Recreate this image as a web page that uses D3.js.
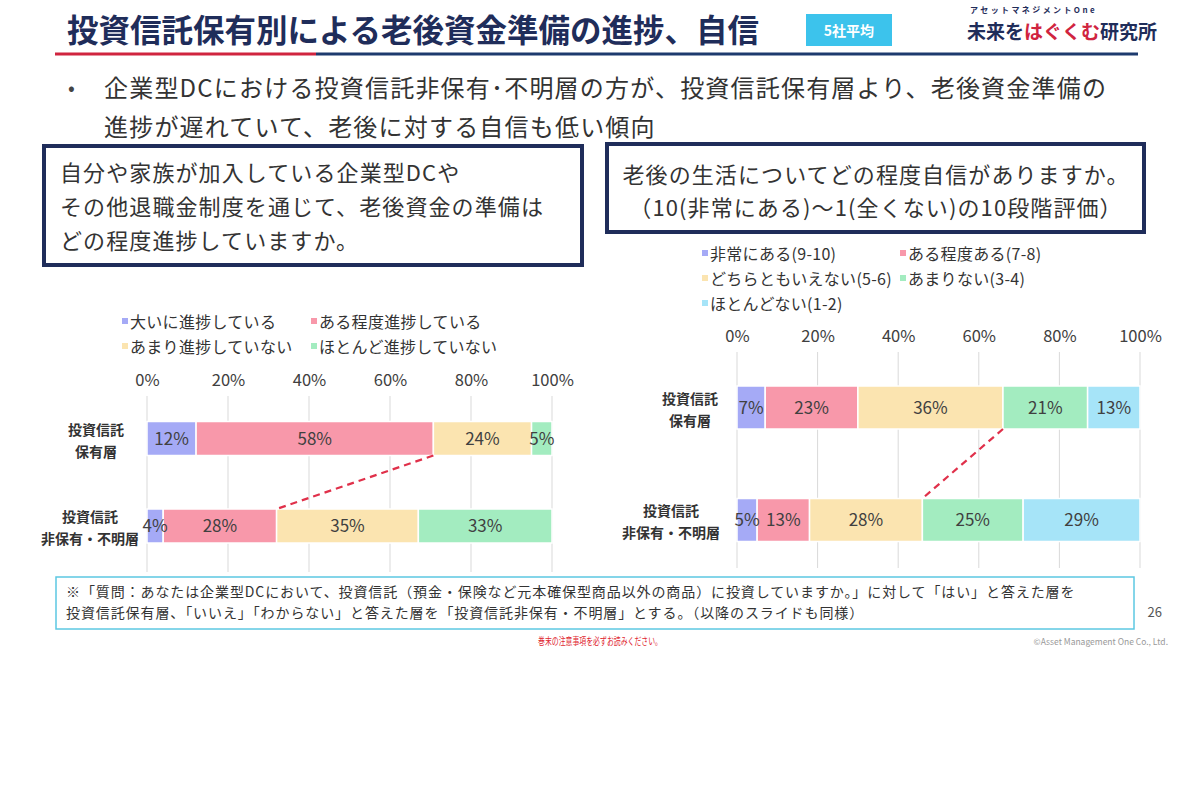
<!DOCTYPE html>
<html lang="ja">
<head>
  <meta charset="utf-8">
  <title>投資信託保有別による老後資金準備の進捗、自信</title>
  <style>
    body { margin:0; background:#fff; }
    svg  { display:block; }
    text { font-family:"Noto Sans CJK JP","Noto Sans",sans-serif; }
  </style>
</head>
<body>
<script src="https://d3js.org/d3.v7.min.js"></script>
<script>

// -- data --
const groups = ["投資信託保有層", "投資信託非保有・不明層"];
const groupLines = [["投資信託", "保有層"], ["投資信託", "非保有・不明層"]];

const progressKeys = ["大いに進捗している", "ある程度進捗している", "あまり進捗していない", "ほとんど進捗していない"];
const progressHolder    = [12, 58, 24, 5];
const progressNonHolder = [4, 28, 35, 33];

const confKeys = ["非常にある(9-10)", "ある程度ある(7-8)", "どちらともいえない(5-6)", "あまりない(3-4)", "ほとんどない(1-2)"];
const confHolder    = [7, 23, 36, 21, 13];
const confNonHolder = [5, 13, 28, 25, 29];

const ticks = [0, 0.2, 0.4, 0.6, 0.8, 1];
const colors = ["#a5aaf6", "#f898aa", "#fbe4b0", "#a3ecc0", "#a6e4f8"];
const navy = "#1f2d5a";

const width = 1200, height = 800;
const svg = d3.select("body").append("svg")
  .attr("width", width)
  .attr("height", height);

// -- header --
svg.append("text")
  .attr("x", 67).attr("y", 42)
  .attr("fill", navy)
  .style("font-size", "31.5px").style("font-weight", "bold")
  .text("投資信託保有別による老後資金準備の進捗、自信");

svg.append("line").attr("x1", 55).attr("x2", 316).attr("y1", 54).attr("y2", 54)
  .attr("stroke", "#d0243f").attr("stroke-width", 3);
svg.append("line").attr("x1", 316).attr("x2", 1138).attr("y1", 54).attr("y2", 54)
  .attr("stroke", "#1d3a6e").attr("stroke-width", 3);

svg.append("rect").attr("x", 806).attr("y", 14).attr("width", 86).attr("height", 32)
  .attr("fill", "#3cc3ec");
svg.append("text").attr("x", 849).attr("y", 36).attr("text-anchor", "middle")
  .attr("fill", "#fff").style("font-size", "14px").style("font-weight", "bold")
  .text("5社平均");

svg.append("text").attr("x", 970).attr("y", 13)
  .attr("fill", navy).style("font-size", "8px").style("font-weight", "bold")
  .style("letter-spacing", "2.4px")
  .text("アセットマネジメントOne");
const logo = svg.append("text").attr("x", 967).attr("y", 39)
  .style("font-size", "19px").style("font-weight", "bold");
logo.append("tspan").attr("fill", navy).text("未来を");
logo.append("tspan").attr("fill", "#d0243f").text("はぐくむ");
logo.append("tspan").attr("fill", navy).text("研究所");

// bullet
svg.append("text").attr("x", 68).attr("y", 95).attr("fill", "#444")
  .style("font-size", "20px").text("•");
svg.append("text").attr("x", 104).attr("y", 97).attr("fill", "#333")
  .style("font-size", "24px").style("letter-spacing", "1.2px")
  .text("企業型DCにおける投資信託非保有･不明層の方が、投資信託保有層より、老後資金準備の");
svg.append("text").attr("x", 104).attr("y", 136).attr("fill", "#333")
  .style("font-size", "24px").style("letter-spacing", "1.2px")
  .text("進捗が遅れていて、老後に対する自信も低い傾向");

// question boxes
function questionBox(x, y, w, h, lines, anchor, tx, lineY) {
  svg.append("rect").attr("x", x).attr("y", y).attr("width", w).attr("height", h)
    .attr("fill", "#fff").attr("stroke", navy).attr("stroke-width", 4);
  svg.append("g").selectAll("text")
    .data(lines)
    .join("text")
      .attr("x", tx)
      .attr("y", (d, i) => lineY[i])
      .attr("text-anchor", anchor)
      .attr("fill", "#333")
      .style("font-size", "22px")
      .style("letter-spacing", "1.1px")
      .text(d => d);
}
questionBox(44, 146, 538, 119,
  ["自分や家族が加入している企業型DCや", "その他退職金制度を通じて、老後資金の準備は", "どの程度進捗していますか。"],
  "start", 60, [181, 215, 249]);
questionBox(607, 144, 537, 88,
  ["老後の生活についてどの程度自信がありますか。", "（10(非常にある)～1(全くない)の10段階評価）"],
  "middle", 876, [183, 216]);

// -- stacked bar chart --
function drawChart(cfg) {
  const g = svg.append("g");
  const x = d3.scaleLinear().domain([0, 1]).range([cfg.x0, cfg.x1]);
  const y = d3.scalePoint().domain(groups).range(cfg.rowY);

  const table = groups.map((grp, i) => {
    const row = { group: grp };
    cfg.keys.forEach((k, j) => row[k] = cfg.values[i][j]);
    return row;
  });
  const series = d3.stack().keys(cfg.keys).offset(d3.stackOffsetExpand)(table);

  // legend
  const legend = g.append("g");
  cfg.keys.forEach((k, i) => {
    const lx = cfg.legendX[i % 2], ly = cfg.legendY[Math.floor(i / 2)];
    legend.append("rect").attr("x", lx).attr("y", ly - 5).attr("width", 6).attr("height", 6)
      .attr("fill", colors[i]);
    legend.append("text").attr("x", lx + 8).attr("y", ly + 5)
      .attr("fill", "#333").style("font-size", "16px").style("letter-spacing", "0.3px").text(k);
  });

  // grid
  g.append("g").selectAll("line")
    .data(ticks)
    .join("line")
      .attr("x1", d => x(d)).attr("x2", d => x(d))
      .attr("y1", cfg.gridTop).attr("y2", cfg.gridBottom)
      .attr("stroke", "#d9d9d9").attr("stroke-width", 1);

  // top axis
  const axis = g.append("g")
    .attr("transform", `translate(0,${cfg.axisY})`)
    .call(d3.axisTop(x).tickValues(ticks).tickFormat(d3.format(".0%")).tickSize(0).tickPadding(0));
  axis.select(".domain").remove();
  axis.selectAll("text").attr("fill", "#404040")
    .style("font-size", "16.5px").style("font-family", "'Noto Sans CJK JP',sans-serif");

  // bars
  const bh = cfg.barH;
  g.append("g").selectAll("g")
    .data(series)
    .join("g")
      .attr("fill", (d, i) => colors[i])
    .selectAll("rect")
    .data(d => d)
    .join("rect")
      .attr("x", d => x(d[0]))
      .attr("y", d => y(d.data.group) - bh / 2)
      .attr("width", d => x(d[1]) - x(d[0]))
      .attr("height", bh)
      .attr("stroke", "#fff").attr("stroke-width", 1.5);

  // value labels
  g.append("g").selectAll("g")
    .data(series)
    .join("g")
    .selectAll("text")
    .data((s, si) => s.map((d, gi) => ({ d, v: cfg.values[gi][si] })))
    .join("text")
      .attr("x", o => (x(o.d[0]) + x(o.d[1])) / 2)
      .attr("y", o => y(o.d.data.group) + 6)
      .attr("text-anchor", "middle")
      .attr("fill", "#404040")
      .style("font-size", "17px")
      .text(o => o.v + "%");

  // dashed connector
  const k = cfg.linkIndex;
  const s = series[k];
  g.append("line")
    .attr("x1", x(s[0][1])).attr("y1", y(groups[0]) + bh / 2)
    .attr("x2", x(s[1][1])).attr("y2", y(groups[1]) - bh / 2)
    .attr("stroke", "#e0304a").attr("stroke-width", 2.2)
    .attr("stroke-dasharray", "7,5");

  // category labels
  groupLines.forEach((lines, i) => {
    lines.forEach((t, j) => {
      g.append("text")
        .attr("x", cfg.labelX[i])
        .attr("y", y(groups[i]) - 4 + j * 22)
        .attr("text-anchor", "middle")
        .attr("fill", "#333")
        .style("font-size", "14px").style("font-weight", "bold")
        .text(t);
    });
  });
}

drawChart({
  keys: progressKeys,
  values: [progressHolder, progressNonHolder],
  x0: 147, x1: 552,
  rowY: [438.5, 526], barH: 34,
  axisY: 386, gridTop: 396, gridBottom: 572,
  legendX: [122, 311], legendY: [323, 348],
  labelX: [96, 90],
  linkIndex: 1
});

drawChart({
  keys: confKeys,
  values: [confHolder, confNonHolder],
  x0: 737, x1: 1140,
  rowY: [407.5, 520], barH: 43,
  axisY: 342, gridTop: 352, gridBottom: 568,
  legendX: [702, 900], legendY: [255, 280, 305],
  labelX: [690, 671],
  linkIndex: 2
});

// footnote
svg.append("rect").attr("x", 56).attr("y", 577).attr("width", 1078).attr("height", 52)
  .attr("fill", "#fff").attr("stroke", "#5cc8e2").attr("stroke-width", 1.5);
svg.append("text").attr("x", 66).attr("y", 597).attr("fill", "#333")
  .style("font-size", "14px").style("letter-spacing", "0.9px")
  .text("※「質問：あなたは企業型DCにおいて、投資信託（預金・保険など元本確保型商品以外の商品）に投資していますか。」に対して「はい」と答えた層を");
svg.append("text").attr("x", 66).attr("y", 618).attr("fill", "#333")
  .style("font-size", "14px").style("letter-spacing", "0.9px")
  .text("投資信託保有層、「いいえ」「わからない」と答えた層を「投資信託非保有・不明層」とする。（以降のスライドも同様）");
svg.append("text").attr("x", 1162).attr("y", 617).attr("text-anchor", "end")
  .attr("fill", "#555").style("font-size", "13px").text("26");
svg.append("text").attr("x", 538).attr("y", 645)
  .attr("fill", "#e0242e").style("font-size", "10px")
  .attr("textLength", 124).attr("lengthAdjust", "spacingAndGlyphs")
  .text("巻末の注意事項を必ずお読みください。");
svg.append("text").attr("x", 1168).attr("y", 645).attr("text-anchor", "end")
  .attr("fill", "#999").style("font-size", "8.5px").text("©Asset Management One Co., Ltd.");

</script>
</body>
</html>
